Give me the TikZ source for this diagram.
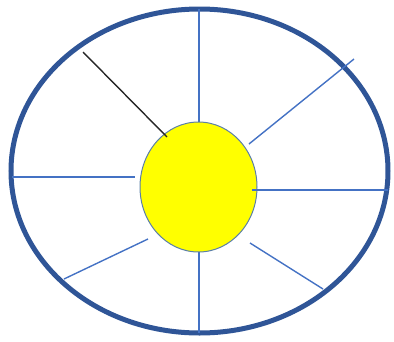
\documentclass[tikz,border=0pt]{standalone}
\usetikzlibrary{shapes.geometric}
\definecolor{rimblue}{HTML}{2F5597}
\definecolor{spokeblue}{HTML}{4472C4}
\definecolor{sunline}{HTML}{5B7FA8}
\definecolor{sunfill}{HTML}{FFFF00}

\begin{document}
\begin{tikzpicture}[x=1pt,y=-1pt,
    rim/.style={ellipse,draw=rimblue,line width=5pt,inner sep=0pt,
    minimum width=377pt,minimum height=324pt},
    sun/.style={ellipse,draw=sunline,fill=sunfill,line width=1pt,inner sep=0pt,
    minimum width=117pt,minimum height=130pt},
    sp/.style={spokeblue,line width=1.4pt},
    bk/.style={black!85,line width=1.4pt}]
    \useasboundingbox (0,0) rectangle (394,341);
    \node[rim] (o) at (199.5,171) {};
    % spoke ends
    \coordinate (t1) at (199,9);   \coordinate (t2) at (199,122);
    \coordinate (b1) at (199,252); \coordinate (b2) at (199,333);
    \coordinate (l1) at (12,177);  \coordinate (l2) at (135,177);
    \coordinate (r1) at (252,190); \coordinate (r2) at (388,190);
    \coordinate (ur1) at (249,144); \coordinate (ur2) at (354,59);
    \coordinate (lr1) at (250,243); \coordinate (lr2) at (323,289);
    \coordinate (ll1) at (148,239); \coordinate (ll2) at (64,279);
    \coordinate (k1) at (83,52);   \coordinate (k2) at (167,137);
    \draw[sp] (t1)--(t2); \draw[sp] (b1)--(b2); \draw[sp] (l1)--(l2);
    \draw[sp] (ur1)--(ur2); \draw[sp] (lr1)--(lr2); \draw[sp] (ll1)--(ll2);
    \node[sun] (s) at (198.5,187) {};
    \draw[sp] (r1)--(r2);
    \draw[bk] (k1)--(k2);
  \end{tikzpicture}
\end{document}
